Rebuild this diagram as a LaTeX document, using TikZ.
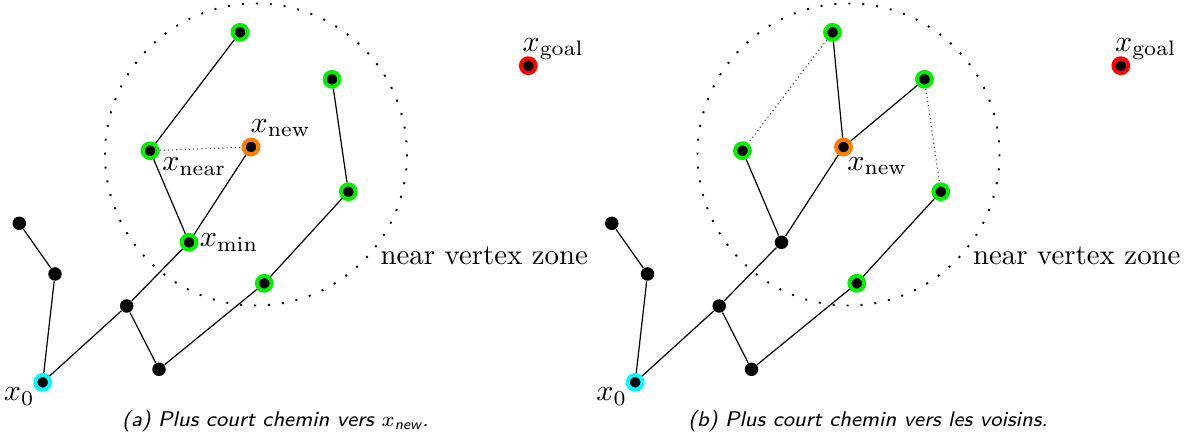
\documentclass[tikz,border=0pt]{standalone}
\usepackage{amsmath}
\usepackage{xcolor}
\usepackage{tikz}
\usetikzlibrary{positioning}
\definecolor{RootC}{RGB}{0,255,255}
\definecolor{NearC}{RGB}{0,240,0}
\definecolor{NewC}{RGB}{255,125,0}
\definecolor{GoalC}{RGB}{255,0,0}

\begin{document}
\begin{tikzpicture}[x=0.3333pt,y=-0.3333pt,
  vtx/.style={circle,fill=black,inner sep=0pt,minimum size=4.5pt},
  cvtx/.style={circle,fill=black,draw=#1,line width=1.35pt,inner sep=0pt,minimum size=4.9pt},
  lbl/.style={inner sep=1pt,font=\fontsize{9.6}{11.5}\selectfont},
  tree/.style={line width=.4pt},
  rewire/.style={densely dotted,line width=.4pt,draw=black!65},
  zone/.style={loosely dotted,line width=.65pt},
  capt/.style={font=\sffamily\itshape\fontsize{7.1}{8.5}\selectfont,inner sep=0pt}]

\useasboundingbox (0,0) rectangle (1197,439);

% (a) shortest path to x_new
\begin{scope}[name prefix=a-]
\draw[zone] (256,154.5) circle[radius=151];
\node[cvtx=RootC] (root) at (42.7,382.3) {};
\node[vtx] (l1) at (19.3,223.3) {};
\node[vtx] (l2) at (55,274) {};
\node[vtx] (c1) at (126.7,306) {};
\node[vtx] (c2) at (159,369.3) {};
\node[cvtx=NearC] (xmin) at (189,242.3) {};
\node[cvtx=NearC] (xnear) at (150,150.7) {};
\node[cvtx=NearC] (t1) at (240,32.3) {};
\node[cvtx=NewC] (xnew) at (251,147) {};
\node[cvtx=NearC] (g1) at (332,79.3) {};
\node[cvtx=NearC] (g2) at (348.3,191.7) {};
\node[cvtx=NearC] (g3) at (264.3,283.3) {};
\node[cvtx=GoalC] (goal) at (528.3,65.7) {};
\foreach \u/\v in {l1/l2,l2/root,root/c1,c1/c2,c2/g3,g3/g2,g2/g1,c1/xmin,xmin/xnear,xnear/t1,xmin/xnew}
  \draw[tree] (\u) -- (\v);
\draw[rewire] (xnear) -- (xnew);

\node[lbl,below left=-1.5pt and -.7pt of root] (lroot) {$x_0$};
\node[lbl,below right=-1.1pt and .7pt of xnear] (lnear) {$x_{\mathrm{near}}$};
\node[lbl,above right=0pt and -3.5pt of xnew] (lnew) {$x_{\mathrm{new}}$};
\node[lbl,right=-.7pt of xmin] (lmin) {$x_{\mathrm{min}}$};
\node[lbl,above right=-1.5pt and -5.3pt of goal] (lgoal) {$x_{\mathrm{goal}}$};
\node[lbl,anchor=base west] (zone) at (377,265) {near vertex zone};
\node[capt,anchor=base] (cap) at (275.5,427) {(a) Plus court chemin vers $x_{\textit{new}}$.};
\end{scope}

% (b) shortest path to the neighbours
\begin{scope}[name prefix=b-,shift={(592.5,0)}]
\draw[zone] (256,154.5) circle[radius=151];
\node[cvtx=RootC] (root) at (42.7,382.3) {};
\node[vtx] (l1) at (19.3,223.3) {};
\node[vtx] (l2) at (55,274) {};
\node[vtx] (c1) at (126.7,306) {};
\node[vtx] (c2) at (159,369.3) {};
\node[vtx] (m1) at (189,242.3) {};
\node[cvtx=NearC] (n1) at (150,150.7) {};
\node[cvtx=NearC] (t1) at (240,32.3) {};
\node[cvtx=NewC] (xnew) at (251,147) {};
\node[cvtx=NearC] (g1) at (332,79.3) {};
\node[cvtx=NearC] (g2) at (348.3,191.7) {};
\node[cvtx=NearC] (g3) at (264.3,283.3) {};
\node[cvtx=GoalC] (goal) at (528.3,65.7) {};
\foreach \u/\v in {l1/l2,l2/root,root/c1,c1/c2,c2/g3,g3/g2,c1/m1,m1/n1,m1/xnew,xnew/t1,xnew/g1}
  \draw[tree] (\u) -- (\v);
\draw[rewire] (t1) -- (n1);
\draw[rewire] (g1) -- (g2);

\node[lbl,below left=-1.5pt and -.7pt of root] (lroot) {$x_0$};
\node[lbl,below right=0pt and -2.1pt of xnew] (lnew) {$x_{\mathrm{new}}$};
\node[lbl,above right=-1.5pt and -5.3pt of goal] (lgoal) {$x_{\mathrm{goal}}$};
\node[lbl,anchor=base west] (zone) at (377,265) {near vertex zone};
\node[capt,anchor=base] (cap) at (275.5,427) {(b) Plus court chemin vers les voisins.};
\end{scope}
\end{tikzpicture}
\end{document}
